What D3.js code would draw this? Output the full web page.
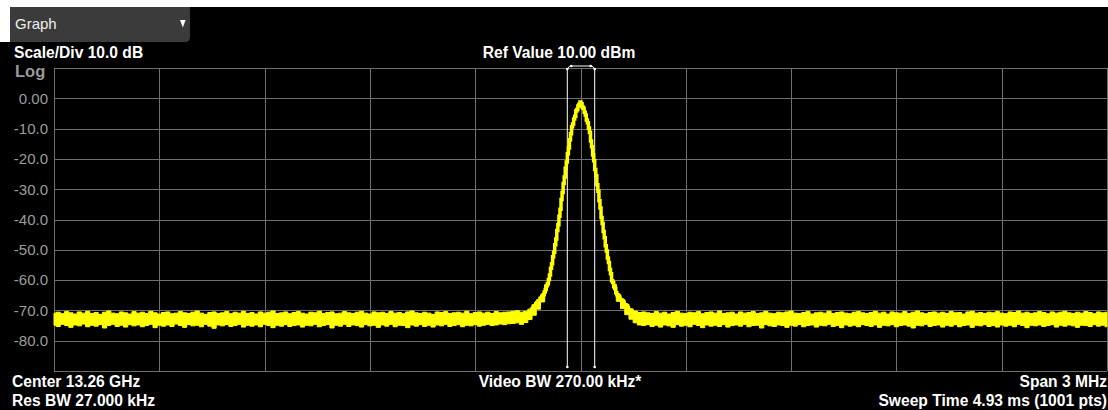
<!DOCTYPE html>
<html>
<meta charset="utf-8">
<head>
<style>
body { margin: 0; background: #fff; }
svg { display: block; }

.label {
  font: bold 15.6px "Liberation Sans", Arial, sans-serif;
  fill: #fff;
}

.grid line {
  stroke: #6e6e6e;
  shape-rendering: crispEdges;
}

.grid path.domain {
  display: none;
}

.grid text {
  font: 15px "Liberation Sans", Arial, sans-serif;
  fill: #9c9c9c;
}
</style>
</head>
<body>
<svg width="1108" height="410"></svg>

<script src="https://cdnjs.cloudflare.com/ajax/libs/d3/7.8.5/d3.min.js"></script>
<script>

// screen settings
var refLevel = 10, scaleDiv = 10;
var yTicks = [10, 0, -10, -20, -30, -40, -50, -60, -70, -80, -90];
var yTickLabels = ["", "0.00", "-10.0", "-20.0", "-30.0", "-40.0", "-50.0", "-60.0", "-70.0", "-80.0", ""];
var xTicksKHz = [-1500, -1200, -900, -600, -300, 0, 300, 600, 900, 1200, 1500];
var bwMarkersKHz = [-39, 39];

// trace, noise floor envelope (max / min hold per 12 kHz bucket), dBm
var floorStepKHz = 12;
// -1500 kHz .. -96 kHz
var floorLeftHi = [
  -70.9,-70.6,-71.1,-70.4,-70.8,-71.2,-70.5,-70.9,-70.3,-71.0,
  -70.7,-71.3,-70.6,-70.2,-70.9,-71.1,-70.5,-70.8,-71.2,-70.4,
  -70.9,-70.6,-71.0,-70.3,-70.8,-71.2,-70.7,-70.5,-71.1,-70.9,
  -70.4,-70.8,-71.0,-70.6,-70.2,-70.9,-71.3,-70.7,-70.5,-71.0,
  -70.8,-70.4,-71.1,-70.6,-70.9,-70.3,-71.0,-70.7,-71.2,-70.5,
  -70.9,-70.6,-70.2,-71.0,-70.8,-70.5,-71.1,-70.7,-70.4,-70.9,
  -71.2,-70.6,-70.8,-70.3,-71.0,-70.7,-70.5,-71.1,-70.9,-70.4,
  -70.8,-71.0,-70.6,-70.3,-70.9,-71.2,-70.5,-70.8,-70.6,-71.0,
  -70.4,-70.9,-70.7,-71.1,-70.5,-70.2,-70.8,-71.0,-70.6,-70.9,
  -71.3,-70.5,-70.7,-70.4,-71.0,-70.8,-70.6,-70.9,-70.3,-71.1,
  -70.7,-70.5,-70.9,-70.6,-71.0,-70.4,-70.8,-70.6,-70.5,-70.3,-70.1,
  -70.6,-70.3,-69.6,-68.1,-66.6,-64.9,-61.6
];
var floorLeftLo = [
  -74.9,-75.3,-74.6,-75.0,-75.6,-74.8,-75.1,-74.5,-75.4,-74.9,
  -75.2,-74.7,-75.8,-75.0,-74.6,-75.3,-74.9,-75.5,-74.7,-75.1,
  -74.8,-75.4,-75.0,-74.6,-75.7,-74.9,-75.2,-74.8,-75.3,-74.5,
  -75.0,-75.6,-74.7,-75.1,-74.9,-75.4,-74.6,-75.2,-75.9,-74.8,
  -75.1,-74.7,-75.3,-75.0,-74.6,-75.5,-74.9,-75.2,-74.8,-75.4,
  -74.6,-75.0,-75.7,-74.9,-75.2,-74.7,-75.3,-75.0,-74.8,-75.5,
  -74.9,-75.1,-74.6,-75.4,-75.0,-74.7,-75.8,-74.9,-75.2,-74.6,
  -75.3,-74.8,-75.0,-75.5,-74.7,-75.1,-74.9,-75.6,-74.8,-75.2,
  -74.6,-75.4,-74.9,-75.0,-75.7,-74.8,-75.2,-74.7,-75.3,-74.9,
  -75.5,-74.8,-75.1,-74.6,-75.3,-75.0,-74.7,-75.4,-74.9,-75.1,
  -74.7,-75.2,-74.9,-74.6,-75.0,-74.8,-74.5,-74.7,-74.4,-74.3,-74.1,
  -74.6,-74.0,-73.0,-71.6,-69.6,-67.2,-63.2
];
// +96 kHz .. +1500 kHz
var floorRightHi = [
  -61.4,-64.7,-66.4,-68.0,-69.5,-70.2,-70.7,
  -70.5,-70.8,-71.0,-70.4,-70.9,-70.6,-71.2,-70.7,-70.3,-70.9,
  -71.0,-70.6,-70.8,-70.4,-71.1,-70.7,-70.5,-70.9,-70.2,-71.0,
  -70.8,-70.6,-71.2,-70.5,-70.9,-70.7,-70.4,-71.0,-70.8,-70.3,
  -70.9,-71.1,-70.6,-70.8,-70.5,-70.2,-70.9,-71.0,-70.7,-70.4,
  -71.2,-70.8,-70.6,-70.9,-70.3,-71.0,-70.7,-70.5,-70.9,-71.1,
  -70.6,-70.4,-70.8,-71.0,-70.7,-70.3,-70.9,-70.6,-71.2,-70.5,
  -70.8,-70.9,-70.4,-71.0,-70.6,-70.2,-70.8,-71.1,-70.7,-70.5,
  -70.9,-70.6,-71.0,-70.4,-70.8,-70.7,-71.2,-70.5,-70.3,-70.9,
  -70.7,-71.0,-70.6,-70.8,-70.4,-70.9,-71.1,-70.5,-70.7,-70.2,
  -70.9,-70.6,-71.0,-70.8,-70.4,-70.7,-71.1,-70.5,-70.9,-70.6,
  -70.3,-70.8,-71.0,-70.6,-70.9,-70.4,-70.7,-71.1,-70.5,-70.8,-70.6
];
var floorRightLo = [
  -63.0,-67.0,-69.4,-71.4,-72.9,-74.1,-74.8,
  -75.0,-74.7,-75.3,-74.9,-75.5,-74.8,-75.1,-75.6,-74.7,-75.2,
  -74.9,-75.4,-74.6,-75.0,-75.7,-74.8,-75.2,-74.9,-75.3,-74.7,
  -75.5,-75.0,-74.8,-75.2,-74.6,-75.4,-75.0,-74.9,-75.8,-74.7,
  -75.1,-75.3,-74.8,-75.0,-75.6,-74.9,-75.2,-74.7,-75.4,-75.0,
  -74.8,-75.5,-74.9,-75.1,-74.6,-75.3,-75.0,-75.7,-74.8,-75.2,
  -74.9,-75.4,-74.7,-75.0,-75.3,-74.8,-75.6,-74.9,-75.1,-74.7,
  -75.4,-75.0,-74.8,-75.2,-75.8,-74.9,-75.1,-74.6,-75.3,-75.0,
  -74.8,-75.5,-74.9,-75.2,-74.7,-75.4,-75.0,-74.8,-75.6,-74.9,
  -75.1,-74.7,-75.3,-75.0,-75.5,-74.8,-75.2,-74.9,-75.4,-74.6,
  -75.0,-75.7,-74.9,-75.1,-74.8,-75.3,-75.0,-74.7,-75.5,-74.9,
  -75.2,-74.8,-75.1,-75.6,-74.9,-75.0,-75.3,-74.7,-75.2,-74.9,-75.4
];

// trace around the carrier, every sweep point (3 kHz), -141 .. +141 kHz
var peakStepKHz = 3;
var peakDbm = [
  -70.1,-69.6,-69.3,-68.7,-68.4,-67.8,-67.5,-67.0,-66.8,-66.1,
  -65.9,-65.3,-64.8,-63.9,-63.1,-61.9,-61.2,-59.8,-58.3,-56.1,
  -54.6,-52.3,-50.8,-48.3,-46.4,-43.6,-41.7,-38.9,-36.6,-33.4,
  -31.1,-28.1,-26.0,-23.1,-21.0,-18.3,-16.4,-13.7,-11.7,-9.4,
  -8.5,-6.8,-5.9,-4.2,-3.7,-2.5,-2.0,
  -1.2,
  -1.8,-2.9,-3.3,-4.6,-5.5,-7.2,-8.1,-9.8,-11.3,-14.1,
  -16.0,-18.7,-20.6,-23.5,-25.6,-28.5,-30.7,-33.8,-36.2,-39.3,
  -41.3,-44.0,-46.0,-48.7,-50.4,-52.7,-54.2,-56.5,-57.9,-60.2,
  -60.8,-62.2,-62.8,-64.2,-64.8,-65.6,-65.7,-66.4,-66.6,-67.2,
  -67.3,-68.1,-68.2,-68.9,-69.1,-69.8,-70.0
];

var svg = d3.select("svg"),
  W = +svg.attr("width"),
  H = +svg.attr("height");

// background: black screen, white page behind the menu
svg.append("rect").attr("width", W).attr("height", H).attr("fill", "#000");
svg.append("rect").attr("width", W).attr("height", 7).attr("fill", "#fff");
svg.append("rect").attr("y", 7).attr("width", 10).attr("height", 35).attr("fill", "#fff");

// "Graph" dropdown
svg.append("path")
  .attr("d", "M10,7H190V37Q190,42 185,42H10Z")
  .attr("fill", "#3b3b3b");
svg.append("text")
  .attr("x", 15).attr("y", 29)
  .style("font", "15px 'Liberation Sans', Arial, sans-serif")
  .attr("fill", "#eee")
  .text("Graph");
svg.append("path")
  .attr("d", "M180,20L185.6,20L182.8,27.5Z")
  .attr("fill", "#fff");

var x = d3.scaleLinear().domain([-1500, 1500]).range([54, 1107]),
  y = d3.scaleLinear().domain([-90, 10]).range([371, 68]);

var plotW = x(1500) - x(-1500),
  plotH = y(-90) - y(10);

// gridlines + level labels
svg.append("g")
  .attr("class", "grid")
  .attr("transform", "translate(" + x(-1500) + ",0)")
  .call(d3.axisLeft(y)
    .tickValues(yTicks)
    .tickSize(-plotW)
    .tickPadding(6)
    .tickFormat(function(d, i) { return yTickLabels[i]; }));

svg.append("g")
  .attr("class", "grid")
  .attr("transform", "translate(0," + y(10) + ")")
  .call(d3.axisTop(x)
    .tickValues(xTicksKHz)
    .tickSize(-plotH)
    .tickFormat(""));

svg.append("text")
  .attr("x", 15).attr("y", 77)
  .style("font", "bold 16.5px 'Liberation Sans', Arial, sans-serif")
  .attr("fill", "#999")
  .text("Log");

// bandwidth markers
var mk = svg.append("g").attr("stroke", "#fff").attr("fill", "#fff");
var mx0 = x(bwMarkersKHz[0]) + 0.5, mx1 = x(bwMarkersKHz[1]) + 0.5;
mk.selectAll("line.v")
  .data(bwMarkersKHz).enter()
  .append("line")
  .attr("class", "v")
  .attr("x1", function(d) { return x(d) + 0.5; })
  .attr("x2", function(d) { return x(d) + 0.5; })
  .attr("y1", y(refLevel) + 1)
  .attr("y2", y(-88.7));
mk.append("path")
  .attr("fill", "none")
  .attr("d", "M" + mx0 + "," + (y(refLevel) + 1) + "L" + (mx0 + 2.5) + "," + (y(refLevel) - 2) +
    "H" + (mx1 - 2.5) + "L" + mx1 + "," + (y(refLevel) + 1));
[[mx0, y(refLevel) + 1], [mx1, y(refLevel) + 1], [mx0 + 4, y(refLevel) - 2], [mx1 - 4, y(refLevel) - 2],
 [mx0, y(-88.7)], [mx1, y(-88.7)]].forEach(function(p) {
  mk.append("circle").attr("cx", p[0]).attr("cy", p[1]).attr("r", 1.3).attr("stroke", "none");
});

// trace
var floorArea = d3.area()
  .x(function(d) { return x(d.f); })
  .y0(function(d) { return y(d.lo); })
  .y1(function(d) { return y(d.hi); })
  .curve(d3.curveStep);

var floorLeft = floorLeftHi.map(function(hi, i) {
  return { f: -1500 + i * floorStepKHz, hi: hi, lo: floorLeftLo[i] };
});
var floorRight = floorRightHi.map(function(hi, i) {
  return { f: 96 + i * floorStepKHz, hi: hi, lo: floorRightLo[i] };
});

svg.selectAll("path.floor")
  .data([floorLeft, floorRight]).enter()
  .append("path")
  .attr("class", "floor")
  .attr("d", floorArea)
  .attr("fill", "#ff0")
  .attr("stroke", "#ff0")
  .attr("stroke-width", 1);

var peakLine = d3.line()
  .x(function(d, i) { return x(-141 + i * peakStepKHz); })
  .y(function(d) { return y(d); })
  .curve(d3.curveStep);

svg.append("path")
  .datum(peakDbm)
  .attr("d", peakLine)
  .attr("fill", "none")
  .attr("stroke", "#ff0")
  .attr("stroke-width", 3.5);

// annotation text
var labels = [
  { t: "Scale/Div 10.0 dB", x: 14, y: 58, a: "start" },
  { t: "Ref Value 10.00 dBm", x: 559, y: 58, a: "middle" },
  { t: "Center 13.26 GHz", x: 12, y: 387, a: "start" },
  { t: "Res BW 27.000 kHz", x: 12, y: 406, a: "start" },
  { t: "Video BW 270.00 kHz*", x: 560, y: 387, a: "middle" },
  { t: "Span 3 MHz", x: 1107, y: 387, a: "end" },
  { t: "Sweep Time 4.93 ms (1001 pts)", x: 1107, y: 406, a: "end" }
];

svg.selectAll("text.label")
  .data(labels).enter()
  .append("text")
  .attr("class", "label")
  .attr("x", function(d) { return d.x; })
  .attr("y", function(d) { return d.y; })
  .attr("text-anchor", function(d) { return d.a; })
  .text(function(d) { return d.t; });

</script>
</body>
</html>
